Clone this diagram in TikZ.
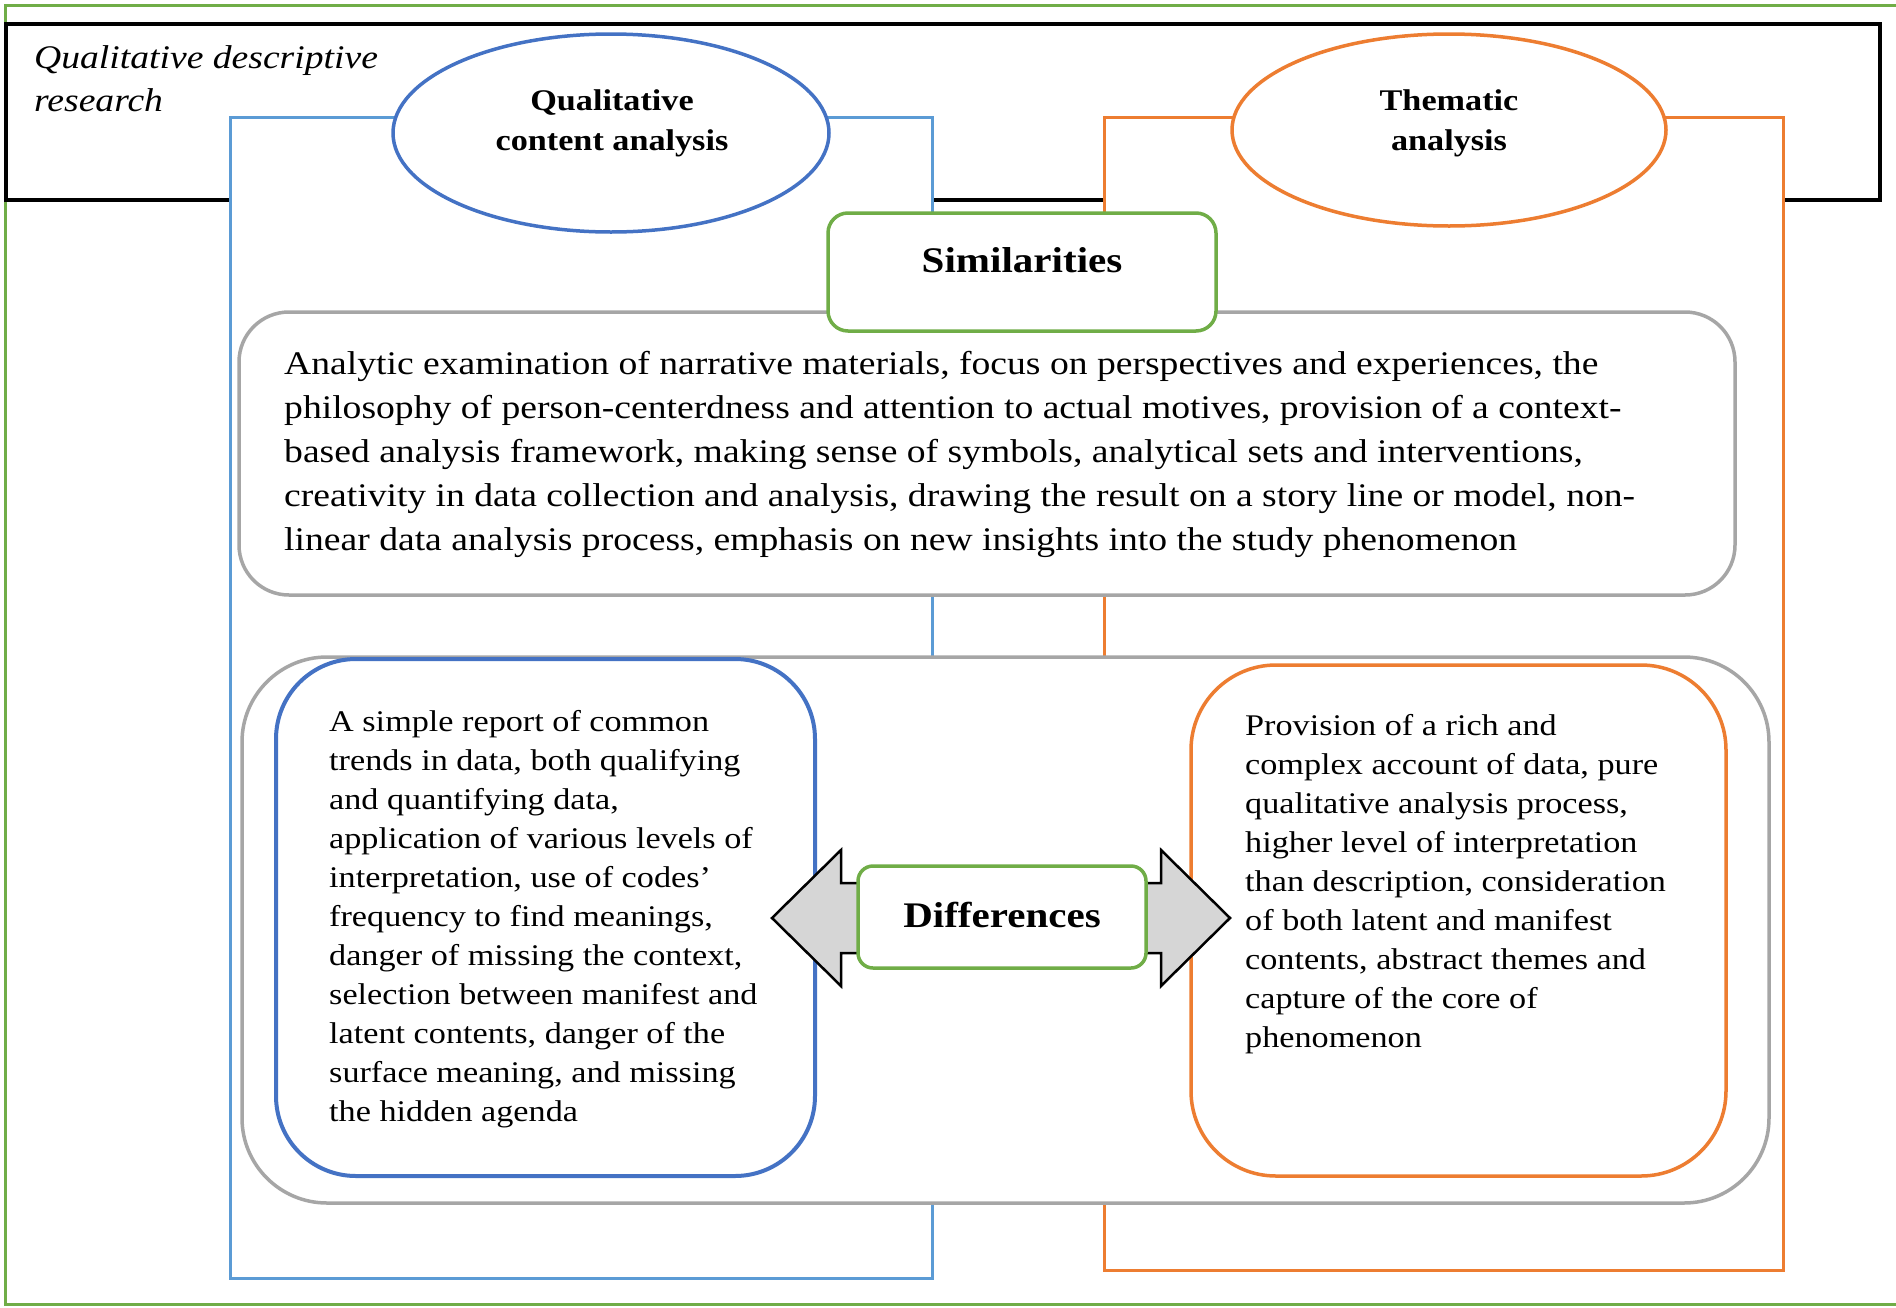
\documentclass[tikz,border=0pt]{standalone}
\usepackage{fontspec}
\setmainfont[FakeStretch=1.14]{Liberation Serif}
\usetikzlibrary{shapes.geometric}
\definecolor{cgreen}{HTML}{70AD47}
\definecolor{cblue}{HTML}{5B9BD5}
\definecolor{cdblue}{HTML}{4472C4}
\definecolor{corange}{HTML}{ED7D31}
\definecolor{cgray}{HTML}{A6A6A6}
\definecolor{carrow}{HTML}{D6D6D6}
\begin{document}
\begin{tikzpicture}[x=1pt,y=-1pt,
  panel/.style={draw, fill=white, inner sep=0pt, rectangle},
  oval/.style={draw, fill=white, inner sep=0pt, ellipse, line width=3.5pt},
  rbox/.style={draw, fill=white, inner sep=0pt, rectangle},
  ttl/.style={inner sep=0pt, align=center, font=\fontsize{30}{40}\bfseries\selectfont},
  hdr/.style={inner sep=0pt, font=\fontsize{36}{40}\bfseries\selectfont},
  body/.style={inner sep=0pt, anchor=north west, align=left, font=\fontsize{30}{39}\selectfont},
  arrowshape/.style={draw=black, fill=carrow, line width=2.5pt, line join=miter}
]
\useasboundingbox (0,0) rectangle (1896,1307);

% outer green frame
\draw[cgreen, line width=3pt] (1905,5) -- (5,5) -- (5,1304) -- (1905,1304);

% black band
\node[panel, draw=black, line width=4.5pt, minimum width=1874pt, minimum height=176pt] (qdr) at (943,112) {};
\node[inner sep=0pt, anchor=north west, align=left, font=\fontsize{33}{43}\itshape\selectfont] (qdrT) at (34,45.5) {Qualitative descriptive\\research};

% columns
\node[panel, draw=cblue, line width=3pt, minimum width=702pt, minimum height=1161pt] (bcol) at (581,697.5) {};
\node[panel, draw=corange, line width=3pt, minimum width=679pt, minimum height=1153pt] (ocol) at (1443.5,693.5) {};

% ellipses
\node[oval, draw=cdblue, minimum width=436pt, minimum height=198pt] (qca) at (611,133) {};
\node[ttl, anchor=north] (qcaT) at (612,89.5) {Qualitative\\content analysis};
\node[oval, draw=corange, minimum width=434pt, minimum height=192pt] (ta) at (1449,130) {};
\node[ttl, anchor=north] (taT) at (1449,89.5) {Thematic\\analysis};

% similarities
\node[rbox, draw=cgray, line width=3.5pt, rounded corners=50pt, minimum width=1496pt, minimum height=283pt] (simbox) at (987,453.5) {};
\node[rbox, draw=cgreen, line width=3.5pt, rounded corners=20pt, minimum width=388pt, minimum height=118pt] (sim) at (1022,272) {};
\node[hdr] (simH) at (1022,260.5) {Similarities};
\node[body, font=\fontsize{33}{44}\selectfont] (simT) at (284,351.5) {Analytic examination of narrative materials, focus on perspectives and experiences, the\\
philosophy of person-centerdness and attention to actual motives, provision of a context-\\
based analysis framework, making sense of symbols, analytical sets and interventions,\\
creativity in data collection and analysis, drawing the result on a story line or model, non-\\
linear data analysis process, emphasis on new insights into the study phenomenon};

% differences
\node[rbox, draw=cgray, line width=3.5pt, rounded corners=85pt, minimum width=1527pt, minimum height=546pt] (diffbox) at (1005.5,930) {};
\node[rbox, draw=cdblue, line width=4pt, rounded corners=80pt, minimum width=539pt, minimum height=517pt] (lbox) at (545.5,917.5) {};
\node[rbox, draw=corange, line width=3.5pt, rounded corners=85pt, minimum width=535pt, minimum height=511pt] (rbox) at (1458.5,920.5) {};
\node[body] (lT) at (329,710.5) {A simple report of common\\
trends in data, both qualifying\\
and quantifying data,\\
application of various levels of\\
interpretation, use of codes’\\
frequency to find meanings,\\
danger of missing the context,\\
selection between manifest and\\
latent contents, danger of the\\
surface meaning, and missing\\
the hidden agenda};
\node[body] (rT) at (1245,714.5) {Provision of a rich and\\
complex account of data, pure\\
qualitative analysis process,\\
higher level of interpretation\\
than description, consideration\\
of both latent and manifest\\
contents, abstract themes and\\
capture of the core of\\
phenomenon};

\draw[arrowshape] (772,918) -- (841,850) -- (841,883) -- (1161,883) -- (1161,850) -- (1230,918) -- (1161,986) -- (1161,953) -- (841,953) -- (841,986) -- cycle;
\node[rbox, draw=cgreen, line width=3.5pt, rounded corners=15pt, minimum width=288pt, minimum height=102pt] (diff) at (1002,917) {};
\node[hdr] (diffH) at (1002,915) {Differences};
\end{tikzpicture}
\end{document}
